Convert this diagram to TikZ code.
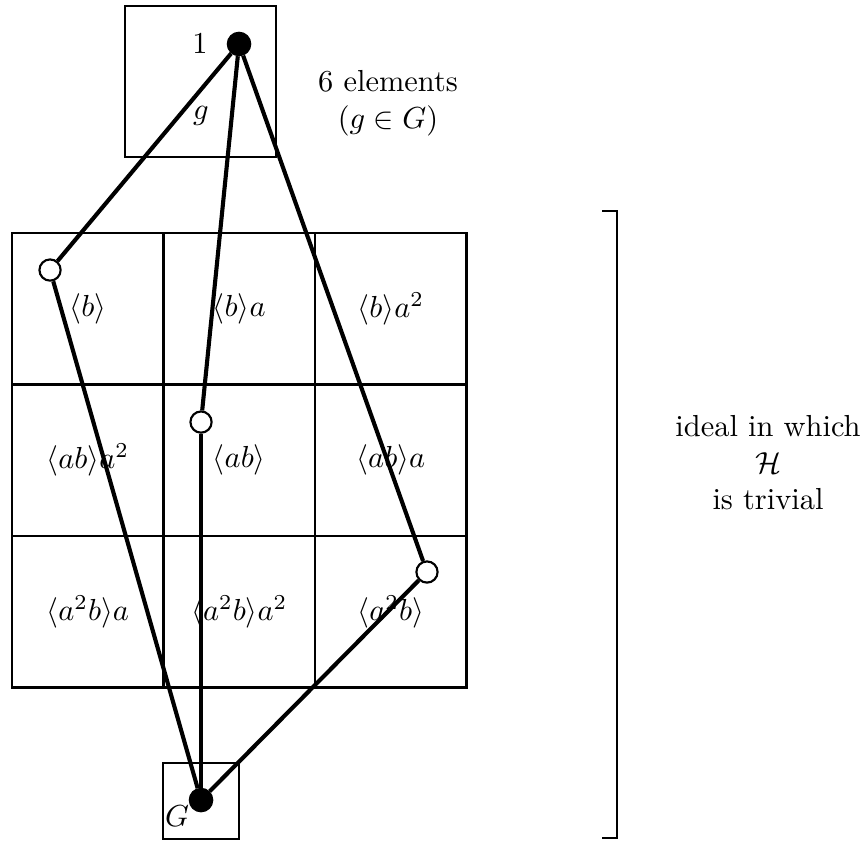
\documentclass[tikz,border=0pt]{standalone}
\usepackage{amsmath,amssymb}
\usepackage{tikz}
\usetikzlibrary{positioning}

\begin{document}
\begin{tikzpicture}[
    node distance=0pt and 0pt,
    cell/.style ={rectangle, draw, line width=0.7pt, outer sep=0pt, inner sep=0pt,
                  minimum size=1.75cm, align=center},
    smallbox/.style={rectangle, draw, line width=0.7pt, outer sep=0pt, minimum size=0.875cm},
    full/.style ={circle, draw, fill=black, inner sep=0pt, minimum size=0.27cm},
    open/.style ={circle, draw, line width=0.7pt, fill=white, inner sep=0pt, minimum size=0.245cm},
    edge/.style ={line width=1.35pt},
    lbl/.style  ={inner sep=1pt, align=center}
]
\useasboundingbox (0,0) rectangle (10.026,-9.714);

% the grid of H-classes
\node[cell] (c11) at (1.014,-3.566) {$\langle b\rangle$};
\node[cell, right=of c11] (c12) {$\langle b\rangle a$};
\node[cell, right=of c12] (c13) {$\langle b\rangle a^2$};
\node[cell, below=of c11] (c21) {$\langle ab\rangle a^2$};
\node[cell, right=of c21] (c22) {$\langle ab\rangle$};
\node[cell, right=of c22] (c23) {$\langle ab\rangle a$};
\node[cell, below=of c21] (c31) {$\langle a^2b\rangle a$};
\node[cell, right=of c31] (c32) {$\langle a^2b\rangle a^2$};
\node[cell, right=of c32] (c33) {$\langle a^2b\rangle$};

% top and bottom classes
\node[cell] (topbox) at (2.316,-0.941) {};
\node[smallbox] (botbox) at (2.322,-9.252) {};

\node[full] (one) at (2.761,-0.508) {};
\node[open] (hb) at (0.578,-3.119) {};
\node[open] (hab) at (2.322,-4.875) {};
\node[open] (haab) at (4.932,-6.607) {};
\node[full] (gg) at (2.322,-9.241) {};

\draw[edge] (one) -- (hb);
\draw[edge] (one) -- (hab);
\draw[edge] (one) -- (haab);
\draw[edge] (hb) -- (gg);
\draw[edge] (hab) -- (gg);
\draw[edge] (haab) -- (gg);

\node[lbl] (onelabel) at (2.310,-0.508) {$1$};
\node[lbl] (glabel) at (2.322,-1.34) {$g$};
\node[lbl] (Glabel) at (2.045,-9.426) {$G$};
\node[lbl] (count) at (4.482,-1.19) {6 elements\\($g\in G$)};

% bracket over the whole ideal
\draw[line width=0.7pt] (6.954,-2.437) -- (7.127,-2.437) -- (7.127,-9.680) -- (6.954,-9.680);
\node[lbl] (ideal) at (8.871,-5.348) {ideal in which\\$\mathcal{H}$\\is trivial};
\end{tikzpicture}
\end{document}
